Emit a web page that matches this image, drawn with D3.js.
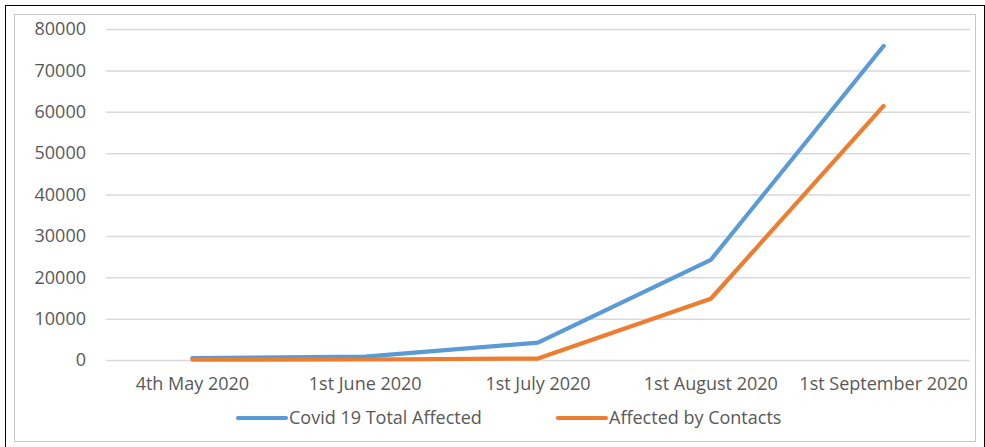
<!DOCTYPE html>
<html>
<head>
<meta charset="utf-8">
<script src="https://cdn.jsdelivr.net/npm/d3@7/dist/d3.min.js"></script>
<style>
  html, body { margin: 0; padding: 0; background: #fff; }
  svg { display: block; }
  text { font-family: "Open Sans", "Noto Sans", sans-serif; fill: #595959; }
</style>
</head>
<body>
<svg id="chart" width="985" height="447"></svg>
<script>
// Reporting dates along the x axis
const categories = ["4th May 2020", "1st June 2020", "1st July 2020", "1st August 2020", "1st September 2020"];
// Cumulative totals
const totalAffected = [450, 800, 4200, 24200, 75900];
const byContacts = [60, 120, 350, 14800, 61400];
// Y axis ticks
const yTicks = [0, 10000, 20000, 30000, 40000, 50000, 60000, 70000, 80000];

const seriesNames = ["Covid 19 Total Affected", "Affected by Contacts"];
const seriesColors = ["#5b9bd5", "#ed7d31"];

const svg = d3.select("#chart");
const FS = 18;

// Outer frame and chart-area border
svg.append("rect").attr("x", 5.5).attr("y", 5.5).attr("width", 979).attr("height", 442)
  .attr("fill", "none").attr("stroke", "#000").attr("stroke-width", 1);
svg.append("rect").attr("x", 14.5).attr("y", 14.5).attr("width", 961).attr("height", 427)
  .attr("fill", "#fff").attr("stroke", "#c8c8c8").attr("stroke-width", 1);

const plot = { left: 106, right: 970, top: 29, bottom: 360 };

const x = d3.scaleBand().domain(categories).range([plot.left, plot.right]);
const y = d3.scaleLinear().domain([0, 80000]).range([plot.bottom, plot.top]);

// Gridlines + y labels
const yAxis = d3.axisLeft(y).tickValues(yTicks).tickSize(-(plot.right - plot.left)).tickPadding(20)
  .tickFormat(d3.format("d"));
const gy = svg.append("g").attr("transform", `translate(${plot.left},0)`).call(yAxis);
gy.select(".domain").remove();
gy.selectAll(".tick line").attr("stroke", "#d9d9d9").attr("stroke-width", 1.5);
gy.selectAll(".tick text").attr("font-size", FS).attr("fill", "#595959")
  .attr("font-family", "'Open Sans', sans-serif");

// X labels
const xAxis = d3.axisBottom(x).tickSize(0).tickPadding(17);
const gx = svg.append("g").attr("transform", `translate(0,${plot.bottom})`).call(xAxis);
gx.select(".domain").remove();
gx.selectAll(".tick text").attr("font-size", FS).attr("fill", "#595959")
  .attr("font-family", "'Open Sans', sans-serif");

// Lines
const line = d3.line()
  .x((d, i) => x(categories[i]) + x.bandwidth() / 2)
  .y(d => y(d));

[totalAffected, byContacts].forEach((vals, k) => {
  svg.append("path").datum(vals)
    .attr("d", line)
    .attr("fill", "none")
    .attr("stroke", seriesColors[k])
    .attr("stroke-width", 4.2)
    .attr("stroke-linejoin", "round")
    .attr("stroke-linecap", "round");
});

// Legend
const legendItems = [
  { x1: 238, x2: 286, tx: 289 },
  { x1: 558, x2: 606, tx: 609 }
];
const ly = 418;
legendItems.forEach((it, k) => {
  svg.append("line").attr("x1", it.x1).attr("x2", it.x2).attr("y1", ly).attr("y2", ly)
    .attr("stroke", seriesColors[k]).attr("stroke-width", 4.2).attr("stroke-linecap", "round");
  svg.append("text").attr("x", it.tx).attr("y", ly).attr("dy", "0.35em")
    .attr("font-size", FS).text(seriesNames[k]);
});
</script>
</body>
</html>
